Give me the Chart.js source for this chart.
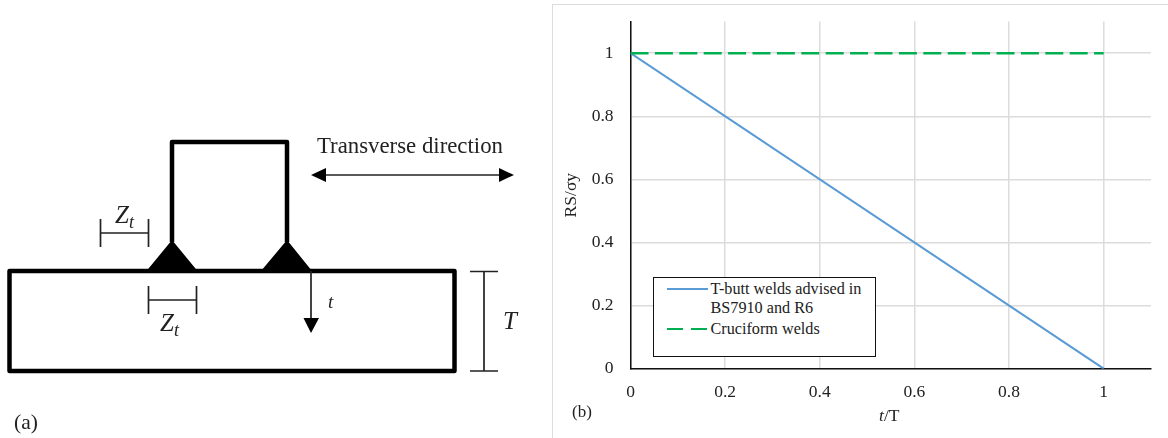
<!DOCTYPE html>
<html>
<head>
<meta charset="utf-8">
<script src="https://cdn.jsdelivr.net/npm/chart.js@4"></script>
<style>
    html, body { margin: 0; padding: 0; background: #fff; overflow: hidden; }
    body { width: 1168px; height: 438px; position: relative; font-family: "Liberation Serif", serif; color: #222; }
    #panel { position: absolute; left: 552px; top: 4px; width: 700px; height: 500px; border: 1.5px solid #dcdcdc; }
    #chart { position: absolute; left: 0; top: 0; }
    #diagram { position: absolute; left: 0; top: 0; }
    #diagram text { font-family: "Liberation Serif", serif; fill: #222; }
    .label { position: absolute; white-space: nowrap; line-height: 1; }
    #legend { position: absolute; left: 653px; top: 277px; width: 223px; height: 80px; box-sizing: border-box; border: 1.5px solid #111; background: #fff; font-size: 16.2px; line-height: 18.7px; }
    .legend-item { position: absolute; left: 12.5px; display: flex; align-items: flex-start; }
    .legend-item svg { flex: none; margin-right: 3px; }
    .legend-item span { width: 165px; }
</style>
</head>
<body>
<div id="panel"></div>
<canvas id="chart" width="1168" height="438"></canvas>

<!-- left hand schematic of the weld, not data -->
<svg id="diagram" width="552" height="438" xmlns="http://www.w3.org/2000/svg">
    <rect x="9.5" y="271" width="445" height="100" fill="none" stroke="#000" stroke-width="4.5" stroke-linejoin="round"/>
    <path d="M172 242 V142 H287 V242" fill="none" stroke="#000" stroke-width="4.5" stroke-linejoin="round"/>
    <path d="M146.500 271 L172 240 L197.500 271 Z M261 271 L287 240 L312 271 Z" fill="#000"/>
    <g stroke="#222" stroke-width="1.7" fill="none">
        <path d="M100.500 219 V247 M148.500 219 V247 M100.500 233 H148.500"/>
        <path d="M148.500 286 V314 M196.500 286 V314 M148.500 300 H196.500"/>
        <path d="M311 271 V320"/>
        <path d="M470 271.500 H498 M470 371 H498 M484 271.500 V371"/>
        <path d="M322 175 H504"/>
    </g>
    <path d="M303.500 318 H319 L311 333 Z M311 175 L326 168 V182 Z M514 175 L499 168 V182 Z" fill="#000"/>
    <text x="317" y="153" font-size="22.800">Transverse direction</text>
    <text x="115" y="223" font-size="25" font-style="italic">Z<tspan font-size="18" dy="5">t</tspan></text>
    <text x="160" y="331" font-size="25" font-style="italic">Z<tspan font-size="18" dy="5">t</tspan></text>
    <text x="328" y="308" font-size="19" font-style="italic">t</text>
    <text x="503" y="329" font-size="25" font-style="italic">T</text>
    <text x="14" y="429" font-size="21.500">(a)</text>
</svg>

<div class="label" style="left:572px;top:403px;font-size:17px;">(b)</div>
<div class="label" style="left:879px;top:407px;font-size:17.500px;"><i>t</i>/T</div>
<div id="legend"></div>

<script>
// Values
const seriesNames = ['T-butt welds advised in BS7910 and R6', 'Cruciform welds'];
const tButtX = [0, 1];
const tButtY = [1, 0];
const cruciformX = [0, 1];
const cruciformY = [1, 1];
const xTicks = [0, 0.2, 0.4, 0.6, 0.8, 1];
const yTicks = [0, 0.2, 0.4, 0.6, 0.8, 1];

const blue = '#5b9bd5';
const green = '#00b050';
const gridColor = '#dcdcdc';
const greenDash = [18, 6.4];

function toPoints(xs, ys) {
    return xs.map((x, i) => ({ x: x, y: ys[i] }));
}

function renderChart() {
    const ctx = document.getElementById('chart');
    const tickFont = { family: '"Liberation Serif"', size: 17.5 };

    new Chart(ctx.getContext('2d'), {
        type: 'scatter',
        data: {
            datasets: [{
                label: seriesNames[1],
                data: toPoints(cruciformX, cruciformY),
                showLine: true,
                borderColor: green,
                borderWidth: 2.5,
                borderDash: greenDash,
                pointRadius: 0
            }, {
                label: seriesNames[0],
                data: toPoints(tButtX, tButtY),
                showLine: true,
                borderColor: blue,
                borderWidth: 2,
                pointRadius: 0
            }]
        },
        options: {
            responsive: false,
            animation: false,
            layout: { padding: { left: 553, top: 21.6, right: 17, bottom: 0 } },
            plugins: { legend: { display: false }, tooltip: { enabled: false } },
            scales: {
                x: {
                    type: 'linear',
                    min: 0,
                    max: 1.1,
                    afterBuildTicks: function(axis) {
                        axis.ticks = xTicks.map(v => ({ value: v }));
                    },
                    afterFit: function(axis) { axis.height = 69.3; },
                    grid: { color: gridColor, lineWidth: 1.5, drawTicks: false },
                    border: { color: '#111', width: 1.5 },
                    ticks: {
                        font: tickFont,
                        color: '#222',
                        padding: 13,
                        maxRotation: 0,
                        callback: function(value) { return String(value); }
                    }
                },
                y: {
                    min: 0,
                    max: 1.1,
                    afterBuildTicks: function(axis) {
                        axis.ticks = yTicks.map(v => ({ value: v }));
                    },
                    afterFit: function(axis) {
                        axis.width = 77.5;
                        // tick padding would otherwise push the plot top down
                        axis.paddingTop = 0;
                        axis.paddingBottom = 0;
                    },
                    grid: { color: gridColor, lineWidth: 1.5, drawTicks: false },
                    border: { color: '#111', width: 1.5 },
                    title: {
                        display: true,
                        text: 'RS/σy',
                        font: { family: '"Liberation Serif"', size: 17.5 },
                        color: '#222',
                        padding: { top: 8, bottom: 0 }
                    },
                    ticks: {
                        font: tickFont,
                        color: '#222',
                        padding: 17,
                        callback: function(value) { return String(value); }
                    }
                }
            }
        }
    });
}

// Legend sits inside the plot, so it is built by hand from the series names
function renderLegend() {
    const legend = document.getElementById('legend');
    const items = [
        { name: seriesNames[0], color: blue, dash: '', top: 2 },
        { name: seriesNames[1], color: green, dash: '16 8', top: 41.5 }
    ];
    items.forEach(function(item) {
        const row = document.createElement('div');
        row.className = 'legend-item';
        row.style.top = item.top + 'px';
        row.innerHTML = '<svg width="41" height="18"><line x1="0" x2="41" y1="9" y2="9" stroke="' + item.color +
            '" stroke-width="2" stroke-dasharray="' + item.dash + '"/></svg><span>' + item.name + '</span>';
        legend.appendChild(row);
    });
}

renderChart();
renderLegend();
</script>
</body>
</html>
